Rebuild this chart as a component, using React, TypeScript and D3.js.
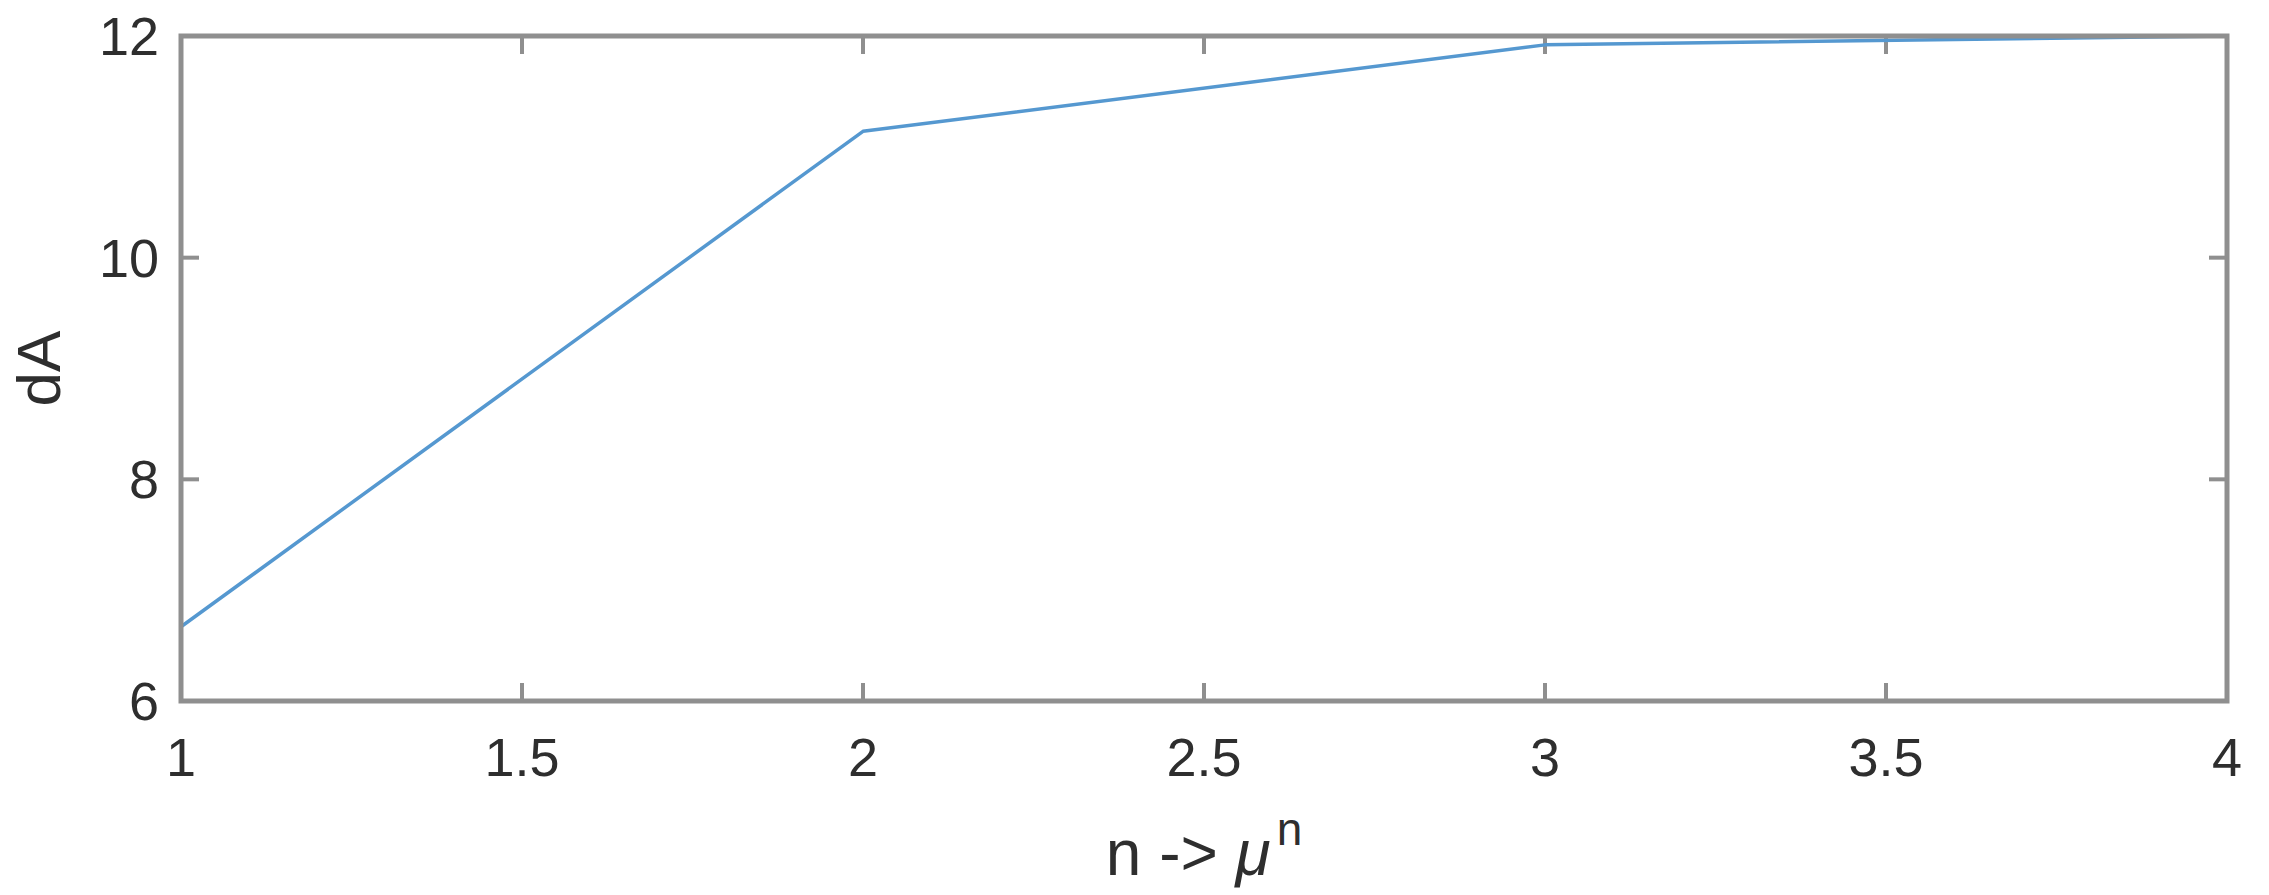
import React from "react";
import * as d3 from "d3";

const xValues = [1, 2, 3, 4];
const dAValues = [6.67, 11.14, 11.92, 12.0];
const xTicks = [1, 1.5, 2, 2.5, 3, 3.5, 4];
const xTickLabels = ["1", "1.5", "2", "2.5", "3", "3.5", "4"];
const yTicks = [6, 8, 10, 12];
const yTickLabels = ["6", "8", "10", "12"];

const W = 2269;
const H = 895;
const M = { left: 181, right: W - 2227, top: 36, bottom: H - 701 };

export default function App() {
  const x = d3.scaleLinear().domain([1, 4]).range([M.left, W - M.right]);
  const y = d3.scaleLinear().domain([6, 12]).range([H - M.bottom, M.top]);
  const line = d3
    .line<number>()
    .x((_, i) => x(xValues[i]))
    .y((d) => y(d));
  const font = "'Liberation Sans', Arial, Helvetica, sans-serif";
  const axisColor = "#8f8f8f";
  const textColor = "#2e2e2e";
  const tickLen = 18;
  const x0 = x.range()[0];
  const x1 = x.range()[1];
  const y0 = y.range()[0];
  const y1 = y.range()[1];
  return (
    <svg
      width={W}
      height={H}
      style={{ position: "absolute", left: 0, top: 0, background: "#fff" }}
      fontFamily={font}
    >
      <rect x={0} y={0} width={W} height={H} fill="#fff" />
      {xTicks.map((t) => (
        <g key={"xt" + t}>
          <line x1={x(t)} x2={x(t)} y1={y0} y2={y0 - tickLen} stroke={axisColor} strokeWidth={4} />
          <line x1={x(t)} x2={x(t)} y1={y1} y2={y1 + tickLen} stroke={axisColor} strokeWidth={4} />
        </g>
      ))}
      {yTicks.map((t) => (
        <g key={"yt" + t}>
          <line x1={x0} x2={x0 + tickLen} y1={y(t)} y2={y(t)} stroke={axisColor} strokeWidth={4} />
          <line x1={x1} x2={x1 - tickLen} y1={y(t)} y2={y(t)} stroke={axisColor} strokeWidth={4} />
        </g>
      ))}
      <path d={line(dAValues) || ""} fill="none" stroke="#5598d0" strokeWidth={3.5} strokeLinejoin="round" />
      <rect
        x={x0}
        y={y1}
        width={x1 - x0}
        height={y0 - y1}
        fill="none"
        stroke={axisColor}
        strokeWidth={5}
      />
      {xTicks.map((t, i) => (
        <text
          key={"xl" + t}
          x={x(t)}
          y={776}
          textAnchor="middle"
          fontSize={54}
          fill={textColor}
        >
          {xTickLabels[i]}
        </text>
      ))}
      {yTicks.map((t, i) => (
        <text
          key={"yl" + t}
          x={159}
          y={y(t) + 19}
          textAnchor="end"
          fontSize={54}
          fill={textColor}
        >
          {yTickLabels[i]}
        </text>
      ))}
      <text x={(x0 + x1) / 2} y={875} textAnchor="middle" fontSize={64} fill={textColor}>
        <tspan>n -&gt; </tspan>
        <tspan fontStyle="italic">μ</tspan>
        <tspan dx={6} dy={-30} fontSize={46}>n</tspan>
      </text>
      <text
        transform={`translate(60, ${(y0 + y1) / 2}) rotate(-90)`}
        textAnchor="middle"
        fontSize={62}
        fill={textColor}
      >
        dA
      </text>
    </svg>
  );
}
